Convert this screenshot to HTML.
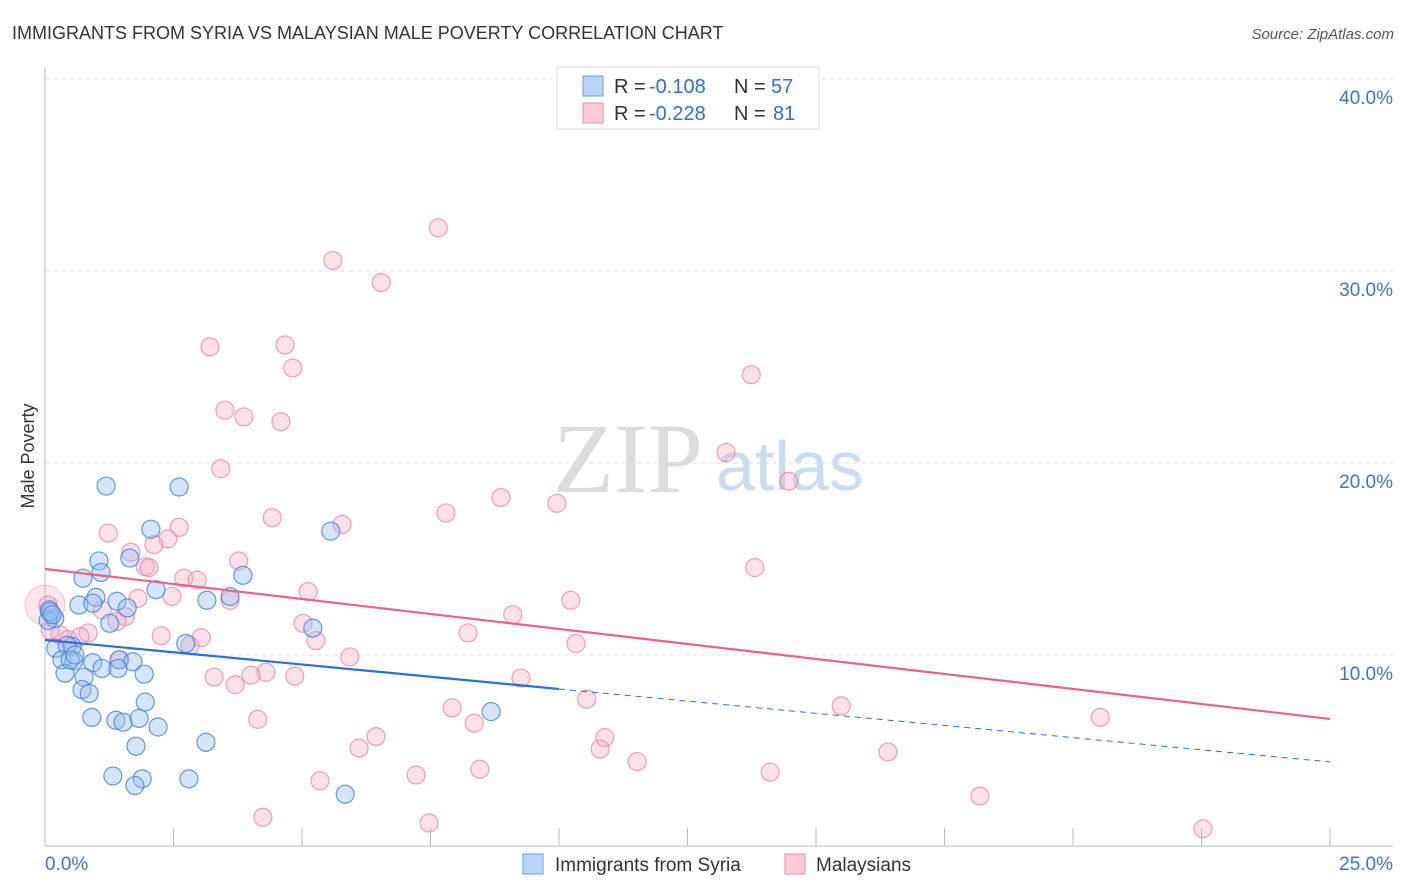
<!DOCTYPE html>
<html><head><meta charset="utf-8"><style>
body{margin:0;background:#fff;font-family:"Liberation Sans",sans-serif;}
svg{display:block}
</style></head><body>
<svg id="chart" width="1406" height="892">
<text x="12" y="39" font-size="18" fill="#333">IMMIGRANTS FROM SYRIA VS MALAYSIAN MALE POVERTY CORRELATION CHART</text>
<text x="1394" y="39" font-size="15" fill="#555" font-style="italic" text-anchor="end">Source: ZipAtlas.com</text>
<g>
<text x="553" y="492" font-family="Liberation Serif,serif" font-size="100" fill="#dcdcdc">ZIP</text>
<text x="716" y="490" font-size="70" fill="#c9dcf2">atlas</text>
</g>
<g id="grid"></g>
<g id="axes"></g>
<g id="marks"></g>
<text x="34" y="456" font-size="18" fill="#333" transform="rotate(-90 34 456)" text-anchor="middle">Male Poverty</text>
<g>
<rect x="557" y="67" width="262" height="62" fill="#fff" stroke="#ddd"/>
<rect x="583" y="76" width="20" height="20" fill="#b9d4f5" stroke="#6a9be0"/>
<rect x="583" y="103" width="20" height="20" fill="#fbcbd9" stroke="#ee8eab"/>
<text x="614" y="93" font-size="20" fill="#333">R =</text>
<text x="649" y="93" font-size="20" fill="#2d6fd6">-0.108</text>
<text x="734" y="93" font-size="20" fill="#333">N =</text>
<text x="771" y="93" font-size="20" fill="#2d6fd6">57</text>
<text x="614" y="120" font-size="20" fill="#333">R =</text>
<text x="649" y="120" font-size="20" fill="#2d6fd6">-0.228</text>
<text x="734" y="120" font-size="20" fill="#333">N =</text>
<text x="773" y="120" font-size="20" fill="#2d6fd6">81</text>
</g>
<g>
<rect x="523" y="854" width="20" height="20" fill="#b9d4f5" stroke="#6a9be0"/>
<text x="555" y="871" font-size="19" fill="#333">Immigrants from Syria</text>
<rect x="785" y="854" width="20" height="20" fill="#fbcbd9" stroke="#ee8eab"/>
<text x="816" y="871" font-size="19" fill="#333">Malaysians</text>
</g>
</svg>
<script>
const xTicksLabels = ["0.0%","25.0%"];
const yTickValues = [10,20,30,40];
const blueX=[1.19,2.61,2.06,5.56,1.05,1.65,1.09,0.74,3.85,2.16,3.6,3.15,0.99,1.4,0.66,0.93,1.6,1.26,5.21,0.08,0.19,0.06,2.74,0.21,0.53,0.43,0.33,0.56,0.93,1.44,1.71,1.11,1.42,0.39,1.93,0.76,0.72,0.86,1.95,0.91,1.38,1.52,1.83,2.2,8.68,1.77,3.13,1.32,1.89,2.8,1.75,5.84,0.1,0.14,0.49,0.58];
const blueY=[18.8,18.75,16.55,16.45,14.9,15.05,14.3,14.0,14.15,13.4,13.05,12.85,13.0,12.8,12.6,12.7,12.45,11.65,11.4,12.35,11.9,11.8,10.6,10.35,10.45,10.5,9.75,9.7,9.6,9.75,9.65,9.3,9.3,9.05,9.0,8.85,8.2,8.0,7.55,6.75,6.6,6.5,6.7,6.25,7.05,5.25,5.45,3.7,3.55,3.55,3.2,2.75,12.25,12.1,9.75,10.0];
const pinkX=[7.65,5.6,6.54,3.21,4.67,4.82,13.74,3.5,3.87,4.59,13.25,3.42,8.87,14.47,9.96,7.8,4.42,5.78,1.23,2.61,2.39,2.12,1.67,3.77,1.95,2.02,2.7,2.96,13.81,2.47,1.81,5.12,10.23,1.56,1.4,1.11,9.1,5.02,2.26,3.04,5.27,8.23,10.33,0.84,0.29,0.45,0.68,2.82,5.93,1.46,4.3,4.01,4.86,3.29,3.7,9.26,10.54,7.92,15.49,20.53,4.14,8.35,6.44,10.89,6.11,10.8,11.52,16.4,8.46,7.22,5.35,14.11,18.19,4.24,7.47,22.53,0.06,0.1,3.6];
const pinkY=[32.25,30.55,29.4,26.05,26.15,24.95,24.6,22.75,22.4,22.15,20.55,19.7,18.2,19.05,17.9,17.4,17.15,16.8,16.35,16.65,16.05,15.75,15.35,14.9,14.6,14.55,14.0,13.9,14.55,13.05,12.95,13.3,12.85,12.0,11.75,12.35,12.1,11.65,11.0,10.9,10.75,11.15,10.6,11.15,11.05,10.8,10.95,10.5,9.9,9.75,9.1,8.95,8.9,8.85,8.45,8.8,7.7,7.25,7.35,6.75,6.65,6.45,5.75,5.7,5.15,5.1,4.45,4.95,4.05,3.75,3.45,3.9,2.65,1.55,1.25,0.95,12.6,11.3,12.85];
const blueTrend=[[0,10.78],[10,8.23],[25,4.43]];
const pinkTrend=[[0,14.48],[25,6.67]];
const X0=45,X1=1330,YB=847,YPX=19.2;
const sx=v=>X0+(X1-X0)*v/25;
const sy=v=>YB-v*YPX;
const NS="http://www.w3.org/2000/svg";
function mk(tag,attrs,parent){const e=document.createElementNS(NS,tag);for(const k in attrs)e.setAttribute(k,attrs[k]);parent.appendChild(e);return e;}
const grid=document.getElementById('grid'),axes=document.getElementById('axes'),marks=document.getElementById('marks');
yTickValues.forEach(v=>{
 const l=mk('line',{x1:45,x2:1393,y1:sy(v),y2:sy(v),stroke:'#ddd','stroke-dasharray':'4 4'},grid);
 
 
 const t=mk('text',{x:1393,y:sy(v)+25,'font-size':19,fill:'#3d72d0','text-anchor':'end'},axes);
 t.textContent=v.toFixed(1)+'%';
 
 
});
let ax=mk('line',{x1:45,x2:1393,y1:846,y2:846,stroke:'#bbb'},axes);


let ay=mk('line',{x1:45,x2:45,y1:67,y2:846,stroke:'#bbb'},axes);


for(let i=0;i<=10;i++){
 const tk=mk('line',{x1:sx(i*2.5),x2:sx(i*2.5),y1:828,y2:846,stroke:'#bbb'},axes);
 
 
}
[[0,45,'start'],[1,1393,'end']].forEach(([i,x,a])=>{
 const t=mk('text',{x:x,y:870,'font-size':19,fill:'#3d72d0','text-anchor':a},axes);
 t.textContent=xTicksLabels[i];
 
 
});
const big=mk('circle',{cx:sx(0),cy:sy(12.6),r:20,fill:'rgba(246,168,192,0.3)',stroke:'rgba(236,120,160,0.4)'},marks);


pinkX.forEach((x,i)=>{
 const c=mk('circle',{cx:sx(x),cy:sy(pinkY[i]),r:9,fill:'rgba(246,168,192,0.35)',stroke:'rgba(236,120,160,0.7)','stroke-width':1.2},marks);
 
 
});
blueX.forEach((x,i)=>{
 const c=mk('circle',{cx:sx(x),cy:sy(blueY[i]),r:9,fill:'rgba(150,190,240,0.4)',stroke:'rgba(60,130,220,0.8)','stroke-width':1.2},marks);
 
 
});
const pl=mk('line',{x1:sx(pinkTrend[0][0]),y1:sy(pinkTrend[0][1]),x2:sx(pinkTrend[1][0]),y2:sy(pinkTrend[1][1]),stroke:'#e8628e','stroke-width':2.2},marks);


const bl=mk('line',{x1:sx(blueTrend[0][0]),y1:sy(blueTrend[0][1]),x2:sx(blueTrend[1][0]),y2:sy(blueTrend[1][1]),stroke:'#2a6fd8','stroke-width':2.2},marks);


const bd=mk('line',{x1:sx(blueTrend[1][0]),y1:sy(blueTrend[1][1]),x2:sx(blueTrend[2][0]),y2:sy(blueTrend[2][1]),stroke:'#2a6fd8','stroke-width':1,'stroke-dasharray':'6 5'},marks);


</script>
</body></html>
